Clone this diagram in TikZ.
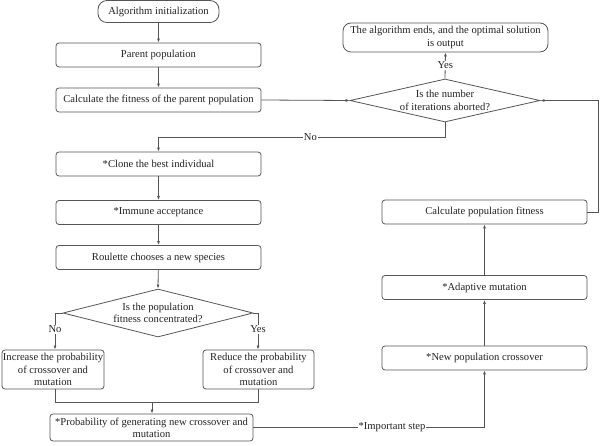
\documentclass[tikz,border=0pt]{standalone}
\usepackage{fontspec}
\setmainfont{Liberation Serif}
\usetikzlibrary{shapes.geometric,arrows.meta}
\definecolor{ln}{HTML}{555555}
\definecolor{tx}{HTML}{222222}
\tikzset{
  box/.style={draw=ln, line width=0.8pt, rectangle, rounded corners=3pt, align=center, text=tx, inner sep=1pt, font=\fontsize{10.6}{12.2}\selectfont},
  dia/.style={draw=ln, line width=0.8pt, diamond, aspect=4.4, inner sep=0pt, align=center, text=tx, font=\fontsize{10.6}{12.2}\selectfont},
  arr/.style={draw=ln, line width=0.8pt, -{Latex[length=4pt,width=3pt]}},
  con/.style={draw=ln, line width=0.8pt},
  lab/.style={text=tx, font=\fontsize{10.6}{12.2}\selectfont, fill=white, inner sep=1pt}
}
\begin{document}
\begin{tikzpicture}[x=1pt,y=-1pt]
\useasboundingbox (0,0) rectangle (600,446);
\node[box, rounded corners=9pt, minimum width=121pt, minimum height=22pt] (init) at (158.5,11.5) {Algorithm initialization};
\node[box, minimum width=205pt, minimum height=24pt] (parent) at (158.5,55) {Parent population};
\node[box, minimum width=205pt, minimum height=24pt] (calc) at (158.5,100) {Calculate the fitness of the parent population};
\node[dia, minimum width=190pt, minimum height=43pt] (d1) at (445,100.5) {Is the number\\of iterations aborted?};
\node[box, rounded corners=8pt, minimum width=205pt, minimum height=29pt] (end) at (445.5,37.5) {The algorithm ends, and the optimal solution\\is output};
\node[box, minimum width=205pt, minimum height=24pt] (clone) at (158.5,164) {*Clone the best individual};
\node[box, minimum width=205pt, minimum height=24pt] (immune) at (158.5,212.5) {*Immune acceptance};
\node[box, minimum width=205pt, minimum height=24pt] (roul) at (158.5,257.5) {Roulette chooses a new species};
\node[dia, minimum width=190pt, minimum height=48pt] (d2) at (158,313) {Is the population\\fitness concentrated?};
\node[box, minimum width=101pt, minimum height=39pt] (inc) at (53,369.5) {Increase the probability\\of crossover and\\mutation};
\node[box, minimum width=111pt, minimum height=39pt] (red) at (258.5,369.5) {Reduce the probability\\of crossover and\\mutation};
\node[box, minimum width=203pt, minimum height=27pt] (gen) at (151.5,427.5) {*Probability of generating new crossover and\\mutation};
\node[box, minimum width=205pt, minimum height=24pt] (npc) at (484.5,358) {*New population crossover};
\node[box, minimum width=205pt, minimum height=24pt] (adm) at (484.5,287.5) {*Adaptive mutation};
\node[box, minimum width=205pt, minimum height=24pt] (cpf) at (484.5,212) {Calculate population fitness};
\coordinate (c1) at (598,212);
\coordinate (c2) at (598,100.5);
\coordinate (n1) at (445,137);
\coordinate (n2) at (158.5,137);
\coordinate (y1) at (55,313);
\coordinate (y2) at (258,313);
\coordinate (j1) at (55,402);
\coordinate (j2) at (258,402);
\coordinate (j3) at (152,402);
\coordinate (k1) at (484.5,427.5);
\draw[arr] (init) -- (parent);
\draw[arr] (parent) -- (calc);
\draw[arr] (calc.east) -- (d1.west);
\draw[arr] (d1.north) -- node[lab]{Yes} (end.south);
\draw[con] (d1.south) -- (n1) -- node[lab, pos=0.47]{No} (n2);
\draw[arr] (n2) -- (clone.north);
\draw[arr] (clone) -- (immune);
\draw[arr] (immune) -- (roul);
\draw[arr] (roul) -- (d2.north);
\draw[con] (d2.west) -- (y1);
\draw[arr] (y1) -- node[lab, pos=0.45]{No} (y1 |- inc.north);
\draw[con] (d2.east) -- (y2);
\draw[arr] (y2) -- node[lab, pos=0.45]{Yes} (y2 |- red.north);
\draw[con] (y1 |- inc.south) -- (j1) -- (j2) -- (y2 |- red.south);
\draw[arr] (j3) -- (j3 |- gen.north);
\draw[con] (gen.east |- k1) -- node[lab, pos=0.6]{*Important step} (k1);
\draw[arr] (k1) -- (npc.south);
\draw[arr] (npc) -- (adm);
\draw[arr] (adm) -- (cpf);
\draw[con] (cpf.east) -- (c1) -- (c2);
\draw[arr] (c2) -- (d1.east);
\end{tikzpicture}
\end{document}
